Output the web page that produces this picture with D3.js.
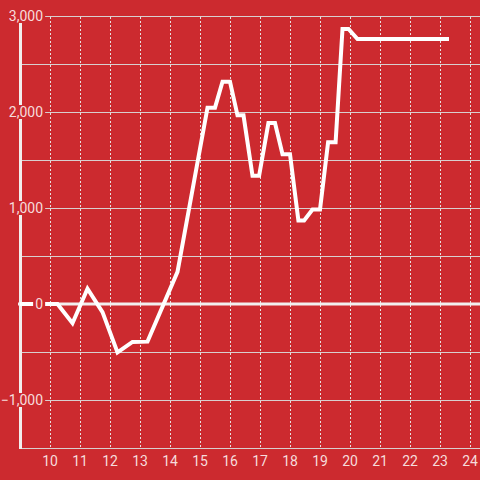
<!DOCTYPE html>
<html><head><meta charset="utf-8">
<script src="https://cdn.jsdelivr.net/npm/d3@7"></script>
<style>html,body{margin:0;padding:0;background:#cc2a2f;}svg{display:block;}</style>
</head><body>
<script>
const xs = [9, 10.25, 10.75, 11.25, 11.75, 12.25, 12.75, 13.25, 14.25, 15.25, 15.5, 15.75, 16.0, 16.25, 16.45, 16.75, 16.97, 17.28, 17.5, 17.75, 18.0, 18.28, 18.47, 18.75, 19.0, 19.27, 19.52, 19.75, 19.95, 20.25, 23.3];
const ys = [0, 0, -200, 160, -85, -505, -395, -392, 335, 2045, 2045, 2315, 2315, 1965, 1965, 1335, 1335, 1885, 1885, 1560, 1560, 870, 870, 985, 985, 1685, 1685, 2865, 2865, 2760, 2760];
const xTicks = [10, 11, 12, 13, 14, 15, 16, 17, 18, 19, 20, 21, 22, 23, 24];
const yGrid = [2500, 2000, 1500, 1000, 500, -500, -1000];
const yLabels = [3000, 2000, 1000, 0, -1000];

const W = 480, H = 480;
const svg = d3.select("body").append("svg").attr("width", W).attr("height", H);
svg.append("rect").attr("width", W).attr("height", H).attr("fill", "#cc2a2f");

const x = d3.scaleLinear().domain([9, 9 + 460/30]).range([20, 480]);
const y = d3.scaleLinear().domain([-1500, 3000]).range([448, 16]);

// vertical dashed grid
svg.append("g").selectAll("line").data(xTicks).join("line")
  .attr("x1", d => x(d) + 0.5).attr("x2", d => x(d) + 0.5)
  .attr("y1", 17).attr("y2", 448)
  .attr("stroke", "#e6e0e0").attr("stroke-width", 1).attr("stroke-dasharray", "2,2");

// horizontal grid
svg.append("g").selectAll("line").data(yGrid.concat([3000])).join("line")
  .attr("x1", 20).attr("x2", W)
  .attr("y1", d => Math.round(y(d)) + 0.5).attr("y2", d => Math.round(y(d)) + 0.5)
  .attr("stroke", "#d8cfcf").attr("stroke-width", 1);

// x axis baseline
svg.append("line").attr("x1", 20).attr("x2", W).attr("y1", 448.5).attr("y2", 448.5)
  .attr("stroke", "#d8cfcf").attr("stroke-width", 1);

// zero line
svg.append("line").attr("x1", 18).attr("x2", W).attr("y1", y(0)).attr("y2", y(0))
  .attr("stroke", "#f2eeee").attr("stroke-width", 3);

// y axis line
svg.append("line").attr("x1", 20.5).attr("x2", 20.5).attr("y1", 16).attr("y2", 449)
  .attr("stroke", "#f2eeee").attr("stroke-width", 3);

// data line
const line = d3.line().x(d => x(d[0])).y(d => y(d[1]));
svg.append("path").datum(xs.map((v, i) => [v, ys[i]]))
  .attr("d", line).attr("fill", "none").attr("stroke", "#fff")
  .attr("stroke-width", 4).attr("stroke-linejoin", "miter");

// y labels with background
const fmt = d3.format(",");
const lg = svg.append("g").selectAll("g").data(yLabels).join("g")
  .attr("transform", d => `translate(43,${y(d)})`);
lg.each(function(d) {
  const g = d3.select(this);
  const rect = g.append("rect").attr("fill", "#cc2a2f");
  const t = g.append("text").text(fmt(d))
    .attr("text-anchor", "end").attr("dy", "0.36em")
    .attr("font-family", "Roboto, sans-serif").attr("font-size", 14)
    .attr("fill", "#f6dcdc");
  const b = t.node().getBBox();
  rect.attr("x", b.x - 2).attr("y", -7).attr("width", b.width + 4).attr("height", 14);
});

// x labels
svg.append("g").selectAll("text").data(xTicks).join("text")
  .attr("x", d => x(d)).attr("y", 466)
  .attr("text-anchor", "middle")
  .attr("font-family", "Roboto, sans-serif").attr("font-size", 14)
  .attr("fill", "#f6dcdc").text(d => d);
</script>
</body></html>
